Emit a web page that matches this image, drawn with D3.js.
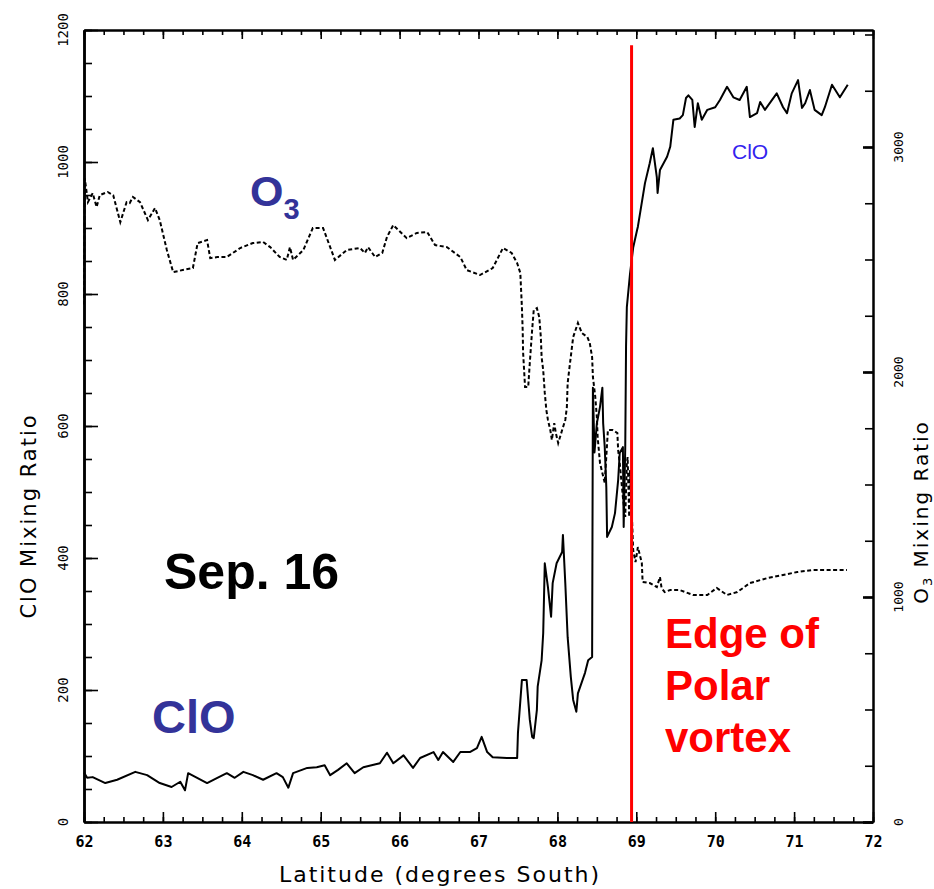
<!DOCTYPE html>
<html>
<head>
<meta charset="utf-8">
<script src="https://cdn.jsdelivr.net/npm/d3@7"></script>
<style>
  html, body { margin: 0; padding: 0; background: #fff; }
  svg { display: block; }
</style>
</head>
<body>
<svg id="chart" width="934" height="889"></svg>
<script>
// Tick values
const latitudeTicks = [62, 63, 64, 65, 66, 67, 68, 69, 70, 71, 72];
const cloTicks = [0, 200, 400, 600, 800, 1000, 1200];
const o3Ticks = [0, 1000, 2000, 3000];

// ClO mixing ratio (pptv) along the flight track, by latitude (deg S)
const cloLatitude = [
  62.00, 62.04, 62.11, 62.27, 62.42, 62.65, 62.80, 62.96, 63.11, 63.22, 63.28, 63.32,
  63.56, 63.69, 63.81, 63.91, 64.02, 64.14, 64.27, 64.44, 64.52, 64.59, 64.65, 64.83,
  64.95, 65.05, 65.12, 65.22, 65.33, 65.43, 65.54, 65.75, 65.84, 65.92, 66.05, 66.17,
  66.26, 66.43, 66.49, 66.55, 66.68, 66.77, 66.89, 66.98, 67.04, 67.11, 67.18, 67.36,
  67.49, 67.50, 67.55, 67.61, 67.65, 67.68, 67.70, 67.74, 67.75, 67.80, 67.82, 67.84,
  67.88, 67.92, 67.94, 67.99, 68.06, 68.07, 68.10, 68.13, 68.17, 68.20, 68.24, 68.26,
  68.35, 68.39, 68.44, 68.45, 68.47, 68.50, 68.54, 68.57, 68.58, 68.60, 68.62, 68.63,
  68.69, 68.73, 68.77, 68.79, 68.83, 68.84, 68.86, 68.87, 68.88, 68.92, 68.96, 69.01,
  69.02, 69.05, 69.11, 69.17, 69.21, 69.26, 69.27, 69.30, 69.39, 69.43, 69.47, 69.55,
  69.59, 69.63, 69.66, 69.71, 69.74, 69.78, 69.83, 69.90, 70.00, 70.06, 70.15, 70.23,
  70.31, 70.40, 70.44, 70.53, 70.57, 70.63, 70.78, 70.86, 70.91, 70.97, 71.05, 71.10,
  71.14, 71.20, 71.26, 71.35, 71.39, 71.48, 71.58, 71.68
];
const cloValues = [
  75, 67, 68, 59, 64, 76, 71, 59, 53, 61, 48, 74,
  59, 67, 74, 67, 76, 71, 64, 74, 68, 52, 74, 82,
  83, 86, 71, 79, 89, 74, 83, 89, 105, 89, 101, 82,
  97, 106, 94, 106, 91, 106, 106, 112, 129, 106, 98, 97,
  97, 135, 215, 215, 155, 129, 127, 170, 205, 245, 286, 392,
  356, 311, 362, 392, 409, 435, 362, 280, 220, 185, 167, 195,
  226, 245, 250, 658, 560, 604, 629, 658, 604, 568, 507, 432,
  447, 468, 518, 559, 568, 447, 568, 720, 780, 830, 870, 897,
  902, 924, 968, 998, 1021, 977, 953, 988, 1008, 1023, 1064, 1066,
  1071, 1097, 1101, 1094, 1053, 1089, 1064, 1079, 1083, 1094, 1114, 1098,
  1094, 1114, 1068, 1074, 1091, 1079, 1104, 1083, 1074, 1104, 1124, 1082,
  1089, 1109, 1079, 1071, 1083, 1117, 1098, 1117
];

// O3 mixing ratio (ppbv) along the same track
const o3Latitude = [
  62.00, 62.01, 62.05, 62.11, 62.16, 62.20, 62.30, 62.37, 62.46, 62.54, 62.58, 62.62,
  62.71, 62.81, 62.90, 62.96, 63.05, 63.13, 63.25, 63.38, 63.44, 63.56, 63.60, 63.69,
  63.81, 63.98, 64.14, 64.27, 64.36, 64.48, 64.57, 64.61, 64.65, 64.78, 64.90, 65.03,
  65.12, 65.18, 65.33, 65.50, 65.56, 65.60, 65.69, 65.78, 65.84, 65.92, 66.09, 66.22,
  66.35, 66.45, 66.60, 66.77, 66.85, 67.02, 67.18, 67.31, 67.42, 67.49, 67.53, 67.54,
  67.55, 67.56, 67.565, 67.59, 67.63, 67.65, 67.68, 67.70, 67.74, 67.77, 67.79, 67.80,
  67.82, 67.84, 67.86, 67.88, 67.91, 67.93, 67.96, 67.98, 68.01, 68.06, 68.10, 68.12,
  68.13, 68.16, 68.18, 68.20, 68.26, 68.31, 68.38, 68.41, 68.44, 68.45, 68.48, 68.50,
  68.51, 68.54, 68.60, 68.64, 68.70, 68.76, 68.77, 68.79, 68.83, 68.86, 68.88, 68.89,
  68.91, 68.92, 68.94, 68.96, 68.99, 69.02, 69.07, 69.08, 69.17, 69.26, 69.30, 69.32,
  69.36, 69.43, 69.55, 69.72, 69.90, 70.02, 70.15, 70.28, 70.44, 70.66, 70.86, 71.04,
  71.24, 71.42, 71.67
];
const o3Values = [
  2300, 2860, 2755, 2795, 2733, 2786, 2800, 2786, 2666, 2755, 2751, 2778,
  2755, 2675, 2729, 2675, 2542, 2444, 2453, 2462, 2573, 2586, 2506, 2511,
  2511, 2551, 2573, 2578, 2555, 2511, 2498, 2555, 2498, 2542, 2640, 2640,
  2555, 2498, 2542, 2551, 2529, 2555, 2511, 2529, 2600, 2653, 2595, 2618,
  2622, 2564, 2555, 2511, 2453, 2431, 2462, 2551, 2529, 2484, 2440, 2364,
  2289, 2187, 2089, 1933, 1933, 2040, 2187, 2275, 2284, 2244, 2155, 2066,
  2009, 1907, 1831, 1787, 1742, 1698, 1773, 1729, 1684, 1742, 1787, 1844,
  1951, 2040, 2098, 2155, 2218, 2173, 2155, 2129, 2066, 1978, 1889, 1800,
  1711, 1595, 1507, 1742, 1742, 1729, 1653, 1595, 1444, 1356, 1595, 1622,
  1356, 1564, 1400, 1209, 1155, 1222, 1151, 1067, 1062, 1044, 1089, 1040,
  1022, 1031, 1031, 1009, 1009, 1040, 1009, 1022, 1062, 1084, 1098, 1111,
  1120, 1120, 1120
];

// Vortex edge marker (latitude) and its top end on the ClO scale
const vortexEdge = 68.94;
const vortexLineTop = 1177;

const svg = d3.select("#chart");
svg.append("rect").attr("width", 934).attr("height", 889).attr("fill", "#fff");

const x = d3.scaleLinear().domain([62, 72]).range([84, 873]);
const yClo = d3.scaleLinear().domain([0, 1200]).range([822, 30]);
const yO3 = d3.scaleLinear().domain([0, 3520]).range([822, 30]);

const axisFont = "'DejaVu Sans Mono', 'Liberation Mono', monospace";
const titleFont = "'DejaVu Sans', 'Liberation Sans', sans-serif";
const boldFont = "'Liberation Sans', Arial, sans-serif";

function styleAxis(g, width) {
  g.select(".domain").attr("stroke", "#000").attr("stroke-width", width);
  g.selectAll(".tick line").attr("stroke", "#000").attr("stroke-width", 1.6);
}

// Bottom axis: quarter-degree minor ticks, whole-degree majors with labels
const latMinor = d3.range(62, 72.001, 0.25);
svg.append("g").attr("transform", "translate(0,822)")
  .call(d3.axisBottom(x).tickValues(latMinor).tickSize(-5).tickSizeOuter(0).tickFormat(""))
  .call(g => styleAxis(g, 2));
svg.append("g").attr("transform", "translate(0,822)")
  .call(d3.axisBottom(x).tickValues(latitudeTicks).tickSize(-10).tickSizeOuter(0).tickPadding(14).tickFormat(d3.format("d")))
  .call(g => styleAxis(g, 2))
  .call(g => g.selectAll("text").attr("font-family", axisFont).attr("font-weight", "bold")
    .attr("font-size", 15).attr("fill", "#000"));

// Top frame with ticks pointing down
svg.append("g").attr("transform", "translate(0,30)")
  .call(d3.axisTop(x).tickValues(latMinor).tickSize(-5).tickSizeOuter(0).tickFormat(""))
  .call(g => styleAxis(g, 2));
svg.append("g").attr("transform", "translate(0,30)")
  .call(d3.axisTop(x).tickValues(latitudeTicks).tickSize(-9).tickSizeOuter(0).tickFormat(""))
  .call(g => styleAxis(g, 2));

// Left axis (ClO)
const cloMinor = d3.range(0, 1200.001, 50);
svg.append("g").attr("transform", "translate(84,0)")
  .call(d3.axisLeft(yClo).tickValues(cloMinor).tickSize(-8).tickSizeOuter(0).tickFormat(""))
  .call(g => styleAxis(g, 2.5));
svg.append("g").attr("transform", "translate(84,0)")
  .call(d3.axisLeft(yClo).tickValues(cloTicks).tickSize(-14).tickSizeOuter(0).tickFormat(""))
  .call(g => styleAxis(g, 2.5));
svg.append("g").selectAll("text").data(cloTicks).join("text")
  .attr("transform", d => `translate(63,${yClo(d)}) rotate(-90)`)
  .attr("text-anchor", "middle").attr("dy", "0.36em")
  .attr("font-family", axisFont).attr("font-size", 14).attr("fill", "#000")
  .text(d => d);

// Right axis (O3)
const o3Minor = d3.range(0, 3500.001, 250);
svg.append("g").attr("transform", "translate(873,0)")
  .call(d3.axisRight(yO3).tickValues(o3Minor).tickSize(-8).tickSizeOuter(0).tickFormat(""))
  .call(g => styleAxis(g, 2));
svg.append("g").attr("transform", "translate(873,0)")
  .call(d3.axisRight(yO3).tickValues(o3Ticks).tickSize(-10).tickSizeOuter(0).tickFormat(""))
  .call(g => styleAxis(g, 2))
  .call(g => g.selectAll(".tick line").attr("stroke-width", 2.6));
svg.append("g").selectAll("text").data(o3Ticks).join("text")
  .attr("transform", d => `translate(898,${yO3(d)}) rotate(-90)`)
  .attr("text-anchor", "middle").attr("dy", "0.36em")
  .attr("font-family", axisFont).attr("font-size", 13).attr("fill", "#000")
  .text(d => d);

// Axis titles
svg.append("text")
  .attr("transform", "translate(36,516) rotate(-90)")
  .attr("text-anchor", "middle")
  .attr("font-family", titleFont).attr("font-size", 21).attr("letter-spacing", 2)
  .attr("fill", "#000").text("ClO Mixing Ratio");
svg.append("text")
  .attr("transform", "translate(928,512) rotate(-90)")
  .attr("text-anchor", "middle")
  .attr("font-family", titleFont).attr("font-size", 20).attr("letter-spacing", 2)
  .attr("fill", "#000")
  .call(t => {
    t.append("tspan").text("O");
    t.append("tspan").attr("font-size", 13).attr("dy", 4).text("3");
    t.append("tspan").attr("dy", -4).text(" Mixing Ratio");
  });
svg.append("text")
  .attr("x", 440).attr("y", 882)
  .attr("text-anchor", "middle")
  .attr("font-family", titleFont).attr("font-size", 22).attr("letter-spacing", 2)
  .attr("fill", "#000").text("Latitude (degrees South)");

// Data lines
const cloData = cloLatitude.map((lat, i) => ({ lat, v: cloValues[i] }));
const o3Data = o3Latitude.map((lat, i) => ({ lat, v: o3Values[i] }));

svg.append("path").datum(o3Data)
  .attr("fill", "none").attr("stroke", "#000").attr("stroke-width", 2)
  .attr("stroke-dasharray", "4,2.5")
  .attr("d", d3.line().x(d => x(d.lat)).y(d => yO3(d.v)));

svg.append("path").datum(cloData)
  .attr("fill", "none").attr("stroke", "#000").attr("stroke-width", 2)
  .attr("stroke-linejoin", "round")
  .attr("d", d3.line().x(d => x(d.lat)).y(d => yClo(d.v)));

// Vortex edge marker
svg.append("line")
  .attr("x1", x(vortexEdge)).attr("x2", x(vortexEdge))
  .attr("y1", yClo(0)).attr("y2", yClo(vortexLineTop))
  .attr("stroke", "#ff0000").attr("stroke-width", 3);

// Annotations
const navy = "#333399";
svg.append("text").attr("x", 250).attr("y", 206)
  .attr("font-family", boldFont).attr("font-weight", "bold").attr("font-size", 43)
  .attr("fill", navy)
  .call(t => {
    t.append("tspan").text("O");
    t.append("tspan").attr("font-size", 29).attr("dy", 13).text("3");
  });
svg.append("text").attr("x", 164).attr("y", 589)
  .attr("font-family", boldFont).attr("font-weight", "bold").attr("font-size", 50)
  .attr("fill", "#000").text("Sep. 16");
svg.append("text").attr("x", 152).attr("y", 733)
  .attr("font-family", boldFont).attr("font-weight", "bold").attr("font-size", 47)
  .attr("fill", navy).text("ClO");
svg.append("text").attr("x", 732).attr("y", 159)
  .attr("font-family", boldFont).attr("font-size", 21)
  .attr("fill", "#3322ee").text("ClO");

const edgeLines = ["Edge of", "Polar", "vortex"];
svg.append("g").selectAll("text").data(edgeLines).join("text")
  .attr("x", 665).attr("y", (d, i) => 648 + i * 52)
  .attr("font-family", boldFont).attr("font-weight", "bold").attr("font-size", 42)
  .attr("fill", "#ff0000").text(d => d);
</script>
</body>
</html>
